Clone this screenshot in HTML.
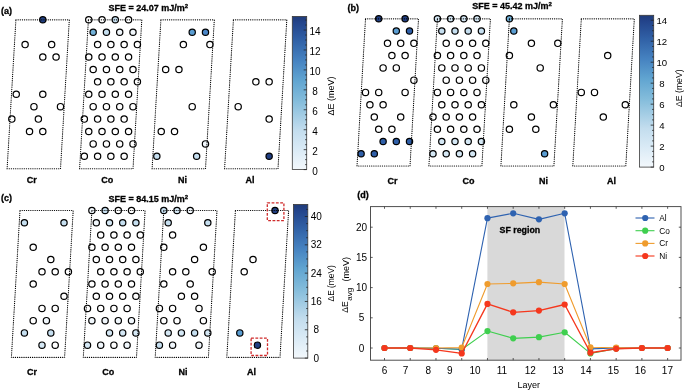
<!DOCTYPE html><html><head><meta charset="utf-8"><style>html,body{margin:0;padding:0;background:#fff;overflow:hidden;width:685px;height:392px;}svg{display:block;}text{filter:grayscale(1);}text[font-weight="bold"]{stroke:#000;stroke-width:0.3px;}text{font-family:"Liberation Sans",sans-serif;fill:#000;}</style></head><body>
<svg width="685" height="392" viewBox="0 0 685 392">
<defs><linearGradient id="ga" x1="0" y1="1" x2="0" y2="0"><stop offset="0.0000" stop-color="#f3f8fc"/><stop offset="0.1240" stop-color="#dbebf6"/><stop offset="0.2550" stop-color="#c3ddee"/><stop offset="0.4500" stop-color="#83bcdb"/><stop offset="0.5800" stop-color="#61a5d1"/><stop offset="0.7100" stop-color="#4683c1"/><stop offset="0.8400" stop-color="#3162a7"/><stop offset="0.9600" stop-color="#23448b"/><stop offset="1.0000" stop-color="#1f3b78"/></linearGradient><linearGradient id="gb" x1="0" y1="1" x2="0" y2="0"><stop offset="0.0000" stop-color="#f3f8fc"/><stop offset="0.1240" stop-color="#dbebf6"/><stop offset="0.2550" stop-color="#c3ddee"/><stop offset="0.4500" stop-color="#83bcdb"/><stop offset="0.5800" stop-color="#61a5d1"/><stop offset="0.7100" stop-color="#4683c1"/><stop offset="0.8400" stop-color="#3162a7"/><stop offset="0.9600" stop-color="#23448b"/><stop offset="1.0000" stop-color="#1f3b78"/></linearGradient><linearGradient id="gc" x1="0" y1="1" x2="0" y2="0"><stop offset="0.0000" stop-color="#f3f8fc"/><stop offset="0.1240" stop-color="#dbebf6"/><stop offset="0.2550" stop-color="#c3ddee"/><stop offset="0.4500" stop-color="#83bcdb"/><stop offset="0.5800" stop-color="#61a5d1"/><stop offset="0.7100" stop-color="#4683c1"/><stop offset="0.8400" stop-color="#3162a7"/><stop offset="0.9600" stop-color="#23448b"/><stop offset="1.0000" stop-color="#1f3b78"/></linearGradient></defs>
<rect width="685" height="392" fill="#fff"/>
<text x="1" y="13.6" font-size="9" font-weight="bold">(a)</text>
<text x="347.6" y="11.2" font-size="9" font-weight="bold">(b)</text>
<text x="1" y="200.6" font-size="9" font-weight="bold">(c)</text>
<text x="357.2" y="198.0" font-size="9" font-weight="bold">(d)</text>
<text x="108.4" y="11.2" font-size="9" font-weight="bold">SFE = 24.07 mJ/m<tspan font-size="6" dy="-3">2</tspan></text>
<text x="472.2" y="8.9" font-size="9" font-weight="bold">SFE = 45.42 mJ/m<tspan font-size="6" dy="-3">2</tspan></text>
<text x="108.4" y="202.2" font-size="9" font-weight="bold">SFE = 84.15 mJ/m<tspan font-size="6" dy="-3">2</tspan></text>
<circle cx="42.79" cy="19.80" r="3.15" fill="#213f82" stroke="#000" stroke-width="1.2"/>
<circle cx="25.10" cy="44.62" r="3.15" fill="#ffffff" stroke="#000" stroke-width="1.2"/>
<circle cx="51.64" cy="44.62" r="3.15" fill="#ffffff" stroke="#000" stroke-width="1.2"/>
<circle cx="42.79" cy="57.03" r="3.15" fill="#ffffff" stroke="#000" stroke-width="1.2"/>
<circle cx="56.06" cy="57.03" r="3.15" fill="#ffffff" stroke="#000" stroke-width="1.2"/>
<circle cx="16.25" cy="94.26" r="3.15" fill="#ffffff" stroke="#000" stroke-width="1.2"/>
<circle cx="42.79" cy="94.26" r="3.15" fill="#ffffff" stroke="#000" stroke-width="1.2"/>
<circle cx="33.94" cy="106.67" r="3.15" fill="#ffffff" stroke="#000" stroke-width="1.2"/>
<circle cx="60.48" cy="106.67" r="3.15" fill="#ffffff" stroke="#000" stroke-width="1.2"/>
<circle cx="11.83" cy="119.08" r="3.15" fill="#ffffff" stroke="#000" stroke-width="1.2"/>
<circle cx="38.37" cy="119.08" r="3.15" fill="#ffffff" stroke="#000" stroke-width="1.2"/>
<circle cx="29.52" cy="131.49" r="3.15" fill="#ffffff" stroke="#000" stroke-width="1.2"/>
<circle cx="42.79" cy="131.49" r="3.15" fill="#ffffff" stroke="#000" stroke-width="1.2"/>
<polygon points="15.90,19.80 69.30,19.80 60.50,168.72 7.10,168.72" fill="none" stroke="#000" stroke-width="1.15" stroke-linecap="round" stroke-dasharray="0.2 1.95"/>
<circle cx="88.75" cy="19.80" r="3.15" fill="#ffffff" stroke="#000" stroke-width="1.2"/>
<circle cx="102.02" cy="19.80" r="3.15" fill="#ffffff" stroke="#000" stroke-width="1.2"/>
<circle cx="115.29" cy="19.80" r="3.15" fill="#c6dff0" stroke="#000" stroke-width="1.2"/>
<circle cx="128.56" cy="19.80" r="3.15" fill="#ffffff" stroke="#000" stroke-width="1.2"/>
<circle cx="93.17" cy="32.21" r="3.15" fill="#72b1d8" stroke="#000" stroke-width="1.2"/>
<circle cx="106.44" cy="32.21" r="3.15" fill="#c6dff0" stroke="#000" stroke-width="1.2"/>
<circle cx="119.71" cy="32.21" r="3.15" fill="#f1f7fc" stroke="#000" stroke-width="1.2"/>
<circle cx="132.98" cy="32.21" r="3.15" fill="#f1f7fc" stroke="#000" stroke-width="1.2"/>
<circle cx="97.60" cy="44.62" r="3.15" fill="#ffffff" stroke="#000" stroke-width="1.2"/>
<circle cx="110.87" cy="44.62" r="3.15" fill="#ffffff" stroke="#000" stroke-width="1.2"/>
<circle cx="124.14" cy="44.62" r="3.15" fill="#ffffff" stroke="#000" stroke-width="1.2"/>
<circle cx="137.41" cy="44.62" r="3.15" fill="#ffffff" stroke="#000" stroke-width="1.2"/>
<circle cx="88.75" cy="57.03" r="3.15" fill="#ffffff" stroke="#000" stroke-width="1.2"/>
<circle cx="102.02" cy="57.03" r="3.15" fill="#ffffff" stroke="#000" stroke-width="1.2"/>
<circle cx="115.29" cy="57.03" r="3.15" fill="#ffffff" stroke="#000" stroke-width="1.2"/>
<circle cx="128.56" cy="57.03" r="3.15" fill="#ffffff" stroke="#000" stroke-width="1.2"/>
<circle cx="93.17" cy="69.44" r="3.15" fill="#ffffff" stroke="#000" stroke-width="1.2"/>
<circle cx="106.44" cy="69.44" r="3.15" fill="#ffffff" stroke="#000" stroke-width="1.2"/>
<circle cx="119.71" cy="69.44" r="3.15" fill="#ffffff" stroke="#000" stroke-width="1.2"/>
<circle cx="132.98" cy="69.44" r="3.15" fill="#ffffff" stroke="#000" stroke-width="1.2"/>
<circle cx="97.60" cy="81.85" r="3.15" fill="#ffffff" stroke="#000" stroke-width="1.2"/>
<circle cx="110.87" cy="81.85" r="3.15" fill="#ffffff" stroke="#000" stroke-width="1.2"/>
<circle cx="124.14" cy="81.85" r="3.15" fill="#ffffff" stroke="#000" stroke-width="1.2"/>
<circle cx="137.41" cy="81.85" r="3.15" fill="#ffffff" stroke="#000" stroke-width="1.2"/>
<circle cx="88.75" cy="94.26" r="3.15" fill="#ffffff" stroke="#000" stroke-width="1.2"/>
<circle cx="102.02" cy="94.26" r="3.15" fill="#ffffff" stroke="#000" stroke-width="1.2"/>
<circle cx="115.29" cy="94.26" r="3.15" fill="#ffffff" stroke="#000" stroke-width="1.2"/>
<circle cx="128.56" cy="94.26" r="3.15" fill="#ffffff" stroke="#000" stroke-width="1.2"/>
<circle cx="93.17" cy="106.67" r="3.15" fill="#ffffff" stroke="#000" stroke-width="1.2"/>
<circle cx="106.44" cy="106.67" r="3.15" fill="#ffffff" stroke="#000" stroke-width="1.2"/>
<circle cx="119.71" cy="106.67" r="3.15" fill="#ffffff" stroke="#000" stroke-width="1.2"/>
<circle cx="132.98" cy="106.67" r="3.15" fill="#ffffff" stroke="#000" stroke-width="1.2"/>
<circle cx="84.33" cy="119.08" r="3.15" fill="#ffffff" stroke="#000" stroke-width="1.2"/>
<circle cx="97.60" cy="119.08" r="3.15" fill="#ffffff" stroke="#000" stroke-width="1.2"/>
<circle cx="110.87" cy="119.08" r="3.15" fill="#ffffff" stroke="#000" stroke-width="1.2"/>
<circle cx="124.14" cy="119.08" r="3.15" fill="#ffffff" stroke="#000" stroke-width="1.2"/>
<circle cx="88.75" cy="131.49" r="3.15" fill="#ffffff" stroke="#000" stroke-width="1.2"/>
<circle cx="102.02" cy="131.49" r="3.15" fill="#ffffff" stroke="#000" stroke-width="1.2"/>
<circle cx="115.29" cy="131.49" r="3.15" fill="#ffffff" stroke="#000" stroke-width="1.2"/>
<circle cx="128.56" cy="131.49" r="3.15" fill="#ffffff" stroke="#000" stroke-width="1.2"/>
<circle cx="93.17" cy="143.90" r="3.15" fill="#ffffff" stroke="#000" stroke-width="1.2"/>
<circle cx="106.44" cy="143.90" r="3.15" fill="#ffffff" stroke="#000" stroke-width="1.2"/>
<circle cx="119.71" cy="143.90" r="3.15" fill="#ffffff" stroke="#000" stroke-width="1.2"/>
<circle cx="132.98" cy="143.90" r="3.15" fill="#ffffff" stroke="#000" stroke-width="1.2"/>
<circle cx="84.33" cy="156.31" r="3.15" fill="#ffffff" stroke="#000" stroke-width="1.2"/>
<circle cx="97.60" cy="156.31" r="3.15" fill="#ffffff" stroke="#000" stroke-width="1.2"/>
<circle cx="110.87" cy="156.31" r="3.15" fill="#ffffff" stroke="#000" stroke-width="1.2"/>
<circle cx="124.14" cy="156.31" r="3.15" fill="#ffffff" stroke="#000" stroke-width="1.2"/>
<polygon points="88.40,19.80 141.80,19.80 133.00,168.72 79.60,168.72" fill="none" stroke="#000" stroke-width="1.15" stroke-linecap="round" stroke-dasharray="0.2 1.95"/>
<circle cx="192.21" cy="32.21" r="3.15" fill="#5a9dd2" stroke="#000" stroke-width="1.2"/>
<circle cx="205.48" cy="32.21" r="3.15" fill="#4a86c8" stroke="#000" stroke-width="1.2"/>
<circle cx="183.37" cy="44.62" r="3.15" fill="#ffffff" stroke="#000" stroke-width="1.2"/>
<circle cx="209.91" cy="44.62" r="3.15" fill="#ffffff" stroke="#000" stroke-width="1.2"/>
<circle cx="165.67" cy="69.44" r="3.15" fill="#ffffff" stroke="#000" stroke-width="1.2"/>
<circle cx="178.94" cy="69.44" r="3.15" fill="#ffffff" stroke="#000" stroke-width="1.2"/>
<circle cx="192.21" cy="106.67" r="3.15" fill="#ffffff" stroke="#000" stroke-width="1.2"/>
<circle cx="161.25" cy="131.49" r="3.15" fill="#ffffff" stroke="#000" stroke-width="1.2"/>
<circle cx="174.52" cy="131.49" r="3.15" fill="#ffffff" stroke="#000" stroke-width="1.2"/>
<circle cx="205.48" cy="143.90" r="3.15" fill="#f1f7fc" stroke="#000" stroke-width="1.2"/>
<circle cx="156.83" cy="156.31" r="3.15" fill="#c6dff0" stroke="#000" stroke-width="1.2"/>
<circle cx="196.64" cy="156.31" r="3.15" fill="#c6dff0" stroke="#000" stroke-width="1.2"/>
<polygon points="160.90,19.80 214.30,19.80 205.50,168.72 152.10,168.72" fill="none" stroke="#000" stroke-width="1.15" stroke-linecap="round" stroke-dasharray="0.2 1.95"/>
<circle cx="255.87" cy="81.85" r="3.15" fill="#ffffff" stroke="#000" stroke-width="1.2"/>
<circle cx="269.14" cy="81.85" r="3.15" fill="#ffffff" stroke="#000" stroke-width="1.2"/>
<circle cx="238.17" cy="106.67" r="3.15" fill="#ffffff" stroke="#000" stroke-width="1.2"/>
<circle cx="269.14" cy="119.08" r="3.15" fill="#ffffff" stroke="#000" stroke-width="1.2"/>
<circle cx="269.14" cy="156.31" r="3.15" fill="#213f82" stroke="#000" stroke-width="1.2"/>
<polygon points="233.40,19.80 286.80,19.80 278.00,168.72 224.60,168.72" fill="none" stroke="#000" stroke-width="1.15" stroke-linecap="round" stroke-dasharray="0.2 1.95"/>
<circle cx="378.70" cy="18.80" r="3.15" fill="#213f82" stroke="#000" stroke-width="1.2"/>
<circle cx="405.10" cy="18.80" r="3.15" fill="#213f82" stroke="#000" stroke-width="1.2"/>
<circle cx="396.30" cy="31.07" r="3.15" fill="#5a9dd2" stroke="#000" stroke-width="1.2"/>
<circle cx="409.50" cy="31.07" r="3.15" fill="#2f5fa8" stroke="#000" stroke-width="1.2"/>
<circle cx="387.50" cy="43.34" r="3.15" fill="#ffffff" stroke="#000" stroke-width="1.2"/>
<circle cx="400.70" cy="43.34" r="3.15" fill="#ffffff" stroke="#000" stroke-width="1.2"/>
<circle cx="413.90" cy="43.34" r="3.15" fill="#ffffff" stroke="#000" stroke-width="1.2"/>
<circle cx="391.90" cy="55.61" r="3.15" fill="#ffffff" stroke="#000" stroke-width="1.2"/>
<circle cx="405.10" cy="55.61" r="3.15" fill="#ffffff" stroke="#000" stroke-width="1.2"/>
<circle cx="383.10" cy="67.88" r="3.15" fill="#ffffff" stroke="#000" stroke-width="1.2"/>
<circle cx="396.30" cy="67.88" r="3.15" fill="#ffffff" stroke="#000" stroke-width="1.2"/>
<circle cx="413.90" cy="80.15" r="3.15" fill="#ffffff" stroke="#000" stroke-width="1.2"/>
<circle cx="365.50" cy="92.42" r="3.15" fill="#ffffff" stroke="#000" stroke-width="1.2"/>
<circle cx="378.70" cy="92.42" r="3.15" fill="#ffffff" stroke="#000" stroke-width="1.2"/>
<circle cx="405.10" cy="92.42" r="3.15" fill="#ffffff" stroke="#000" stroke-width="1.2"/>
<circle cx="369.90" cy="104.69" r="3.15" fill="#ffffff" stroke="#000" stroke-width="1.2"/>
<circle cx="383.10" cy="104.69" r="3.15" fill="#ffffff" stroke="#000" stroke-width="1.2"/>
<circle cx="374.30" cy="116.96" r="3.15" fill="#ffffff" stroke="#000" stroke-width="1.2"/>
<circle cx="400.70" cy="116.96" r="3.15" fill="#ffffff" stroke="#000" stroke-width="1.2"/>
<circle cx="378.70" cy="129.23" r="3.15" fill="#ffffff" stroke="#000" stroke-width="1.2"/>
<circle cx="391.90" cy="129.23" r="3.15" fill="#ffffff" stroke="#000" stroke-width="1.2"/>
<circle cx="383.10" cy="141.50" r="3.15" fill="#2f5fa8" stroke="#000" stroke-width="1.2"/>
<circle cx="396.30" cy="141.50" r="3.15" fill="#2f5fa8" stroke="#000" stroke-width="1.2"/>
<circle cx="409.50" cy="141.50" r="3.15" fill="#2f5fa8" stroke="#000" stroke-width="1.2"/>
<circle cx="361.10" cy="153.77" r="3.15" fill="#2f5fa8" stroke="#000" stroke-width="1.2"/>
<circle cx="374.30" cy="153.77" r="3.15" fill="#2f5fa8" stroke="#000" stroke-width="1.2"/>
<polygon points="365.50,18.80 418.50,18.80 410.00,166.04 357.00,166.04" fill="none" stroke="#000" stroke-width="1.15" stroke-linecap="round" stroke-dasharray="0.2 1.95"/>
<circle cx="437.40" cy="18.80" r="3.15" fill="#d5e8f5" stroke="#000" stroke-width="1.2"/>
<circle cx="450.60" cy="18.80" r="3.15" fill="#d5e8f5" stroke="#000" stroke-width="1.2"/>
<circle cx="463.80" cy="18.80" r="3.15" fill="#d5e8f5" stroke="#000" stroke-width="1.2"/>
<circle cx="477.00" cy="18.80" r="3.15" fill="#d5e8f5" stroke="#000" stroke-width="1.2"/>
<circle cx="441.80" cy="31.07" r="3.15" fill="#c6dff0" stroke="#000" stroke-width="1.2"/>
<circle cx="455.00" cy="31.07" r="3.15" fill="#c6dff0" stroke="#000" stroke-width="1.2"/>
<circle cx="468.20" cy="31.07" r="3.15" fill="#c6dff0" stroke="#000" stroke-width="1.2"/>
<circle cx="481.40" cy="31.07" r="3.15" fill="#c6dff0" stroke="#000" stroke-width="1.2"/>
<circle cx="446.20" cy="43.34" r="3.15" fill="#ffffff" stroke="#000" stroke-width="1.2"/>
<circle cx="459.40" cy="43.34" r="3.15" fill="#ffffff" stroke="#000" stroke-width="1.2"/>
<circle cx="472.60" cy="43.34" r="3.15" fill="#ffffff" stroke="#000" stroke-width="1.2"/>
<circle cx="485.80" cy="43.34" r="3.15" fill="#ffffff" stroke="#000" stroke-width="1.2"/>
<circle cx="437.40" cy="55.61" r="3.15" fill="#ffffff" stroke="#000" stroke-width="1.2"/>
<circle cx="450.60" cy="55.61" r="3.15" fill="#ffffff" stroke="#000" stroke-width="1.2"/>
<circle cx="463.80" cy="55.61" r="3.15" fill="#ffffff" stroke="#000" stroke-width="1.2"/>
<circle cx="477.00" cy="55.61" r="3.15" fill="#ffffff" stroke="#000" stroke-width="1.2"/>
<circle cx="441.80" cy="67.88" r="3.15" fill="#ffffff" stroke="#000" stroke-width="1.2"/>
<circle cx="455.00" cy="67.88" r="3.15" fill="#ffffff" stroke="#000" stroke-width="1.2"/>
<circle cx="468.20" cy="67.88" r="3.15" fill="#ffffff" stroke="#000" stroke-width="1.2"/>
<circle cx="481.40" cy="67.88" r="3.15" fill="#ffffff" stroke="#000" stroke-width="1.2"/>
<circle cx="446.20" cy="80.15" r="3.15" fill="#ffffff" stroke="#000" stroke-width="1.2"/>
<circle cx="459.40" cy="80.15" r="3.15" fill="#ffffff" stroke="#000" stroke-width="1.2"/>
<circle cx="472.60" cy="80.15" r="3.15" fill="#ffffff" stroke="#000" stroke-width="1.2"/>
<circle cx="485.80" cy="80.15" r="3.15" fill="#ffffff" stroke="#000" stroke-width="1.2"/>
<circle cx="437.40" cy="92.42" r="3.15" fill="#ffffff" stroke="#000" stroke-width="1.2"/>
<circle cx="450.60" cy="92.42" r="3.15" fill="#ffffff" stroke="#000" stroke-width="1.2"/>
<circle cx="463.80" cy="92.42" r="3.15" fill="#ffffff" stroke="#000" stroke-width="1.2"/>
<circle cx="477.00" cy="92.42" r="3.15" fill="#ffffff" stroke="#000" stroke-width="1.2"/>
<circle cx="441.80" cy="104.69" r="3.15" fill="#ffffff" stroke="#000" stroke-width="1.2"/>
<circle cx="455.00" cy="104.69" r="3.15" fill="#ffffff" stroke="#000" stroke-width="1.2"/>
<circle cx="468.20" cy="104.69" r="3.15" fill="#ffffff" stroke="#000" stroke-width="1.2"/>
<circle cx="481.40" cy="104.69" r="3.15" fill="#ffffff" stroke="#000" stroke-width="1.2"/>
<circle cx="433.00" cy="116.96" r="3.15" fill="#ffffff" stroke="#000" stroke-width="1.2"/>
<circle cx="446.20" cy="116.96" r="3.15" fill="#ffffff" stroke="#000" stroke-width="1.2"/>
<circle cx="459.40" cy="116.96" r="3.15" fill="#ffffff" stroke="#000" stroke-width="1.2"/>
<circle cx="472.60" cy="116.96" r="3.15" fill="#ffffff" stroke="#000" stroke-width="1.2"/>
<circle cx="437.40" cy="129.23" r="3.15" fill="#ffffff" stroke="#000" stroke-width="1.2"/>
<circle cx="450.60" cy="129.23" r="3.15" fill="#ffffff" stroke="#000" stroke-width="1.2"/>
<circle cx="463.80" cy="129.23" r="3.15" fill="#ffffff" stroke="#000" stroke-width="1.2"/>
<circle cx="477.00" cy="129.23" r="3.15" fill="#ffffff" stroke="#000" stroke-width="1.2"/>
<circle cx="441.80" cy="141.50" r="3.15" fill="#d5e8f5" stroke="#000" stroke-width="1.2"/>
<circle cx="455.00" cy="141.50" r="3.15" fill="#d5e8f5" stroke="#000" stroke-width="1.2"/>
<circle cx="468.20" cy="141.50" r="3.15" fill="#d5e8f5" stroke="#000" stroke-width="1.2"/>
<circle cx="481.40" cy="141.50" r="3.15" fill="#d5e8f5" stroke="#000" stroke-width="1.2"/>
<circle cx="433.00" cy="153.77" r="3.15" fill="#d5e8f5" stroke="#000" stroke-width="1.2"/>
<circle cx="446.20" cy="153.77" r="3.15" fill="#d5e8f5" stroke="#000" stroke-width="1.2"/>
<circle cx="459.40" cy="153.77" r="3.15" fill="#d5e8f5" stroke="#000" stroke-width="1.2"/>
<circle cx="472.60" cy="153.77" r="3.15" fill="#d5e8f5" stroke="#000" stroke-width="1.2"/>
<polygon points="437.40,18.80 490.40,18.80 481.90,166.04 428.90,166.04" fill="none" stroke="#000" stroke-width="1.15" stroke-linecap="round" stroke-dasharray="0.2 1.95"/>
<circle cx="509.40" cy="18.80" r="3.15" fill="#72b1d8" stroke="#000" stroke-width="1.2"/>
<circle cx="513.80" cy="31.07" r="3.15" fill="#5a9dd2" stroke="#000" stroke-width="1.2"/>
<circle cx="531.40" cy="43.34" r="3.15" fill="#ffffff" stroke="#000" stroke-width="1.2"/>
<circle cx="557.80" cy="43.34" r="3.15" fill="#ffffff" stroke="#000" stroke-width="1.2"/>
<circle cx="509.40" cy="55.61" r="3.15" fill="#ffffff" stroke="#000" stroke-width="1.2"/>
<circle cx="540.20" cy="67.88" r="3.15" fill="#ffffff" stroke="#000" stroke-width="1.2"/>
<circle cx="513.80" cy="104.69" r="3.15" fill="#ffffff" stroke="#000" stroke-width="1.2"/>
<circle cx="553.40" cy="104.69" r="3.15" fill="#ffffff" stroke="#000" stroke-width="1.2"/>
<circle cx="531.40" cy="116.96" r="3.15" fill="#ffffff" stroke="#000" stroke-width="1.2"/>
<circle cx="509.40" cy="129.23" r="3.15" fill="#ffffff" stroke="#000" stroke-width="1.2"/>
<circle cx="535.80" cy="129.23" r="3.15" fill="#ffffff" stroke="#000" stroke-width="1.2"/>
<circle cx="544.60" cy="153.77" r="3.15" fill="#5a9dd2" stroke="#000" stroke-width="1.2"/>
<polygon points="509.40,18.80 562.40,18.80 553.90,166.04 500.90,166.04" fill="none" stroke="#000" stroke-width="1.15" stroke-linecap="round" stroke-dasharray="0.2 1.95"/>
<circle cx="607.70" cy="55.61" r="3.15" fill="#ffffff" stroke="#000" stroke-width="1.2"/>
<circle cx="581.30" cy="92.42" r="3.15" fill="#ffffff" stroke="#000" stroke-width="1.2"/>
<circle cx="594.50" cy="92.42" r="3.15" fill="#ffffff" stroke="#000" stroke-width="1.2"/>
<circle cx="625.30" cy="104.69" r="3.15" fill="#ffffff" stroke="#000" stroke-width="1.2"/>
<circle cx="603.30" cy="116.96" r="3.15" fill="#ffffff" stroke="#000" stroke-width="1.2"/>
<polygon points="581.30,18.80 634.30,18.80 625.80,166.04 572.80,166.04" fill="none" stroke="#000" stroke-width="1.15" stroke-linecap="round" stroke-dasharray="0.2 1.95"/>
<circle cx="24.40" cy="222.74" r="3.15" fill="#c6dff0" stroke="#000" stroke-width="1.2"/>
<circle cx="64.00" cy="222.74" r="3.15" fill="#c6dff0" stroke="#000" stroke-width="1.2"/>
<circle cx="33.20" cy="247.22" r="3.15" fill="#ffffff" stroke="#000" stroke-width="1.2"/>
<circle cx="50.80" cy="259.46" r="3.15" fill="#ffffff" stroke="#000" stroke-width="1.2"/>
<circle cx="42.00" cy="271.70" r="3.15" fill="#ffffff" stroke="#000" stroke-width="1.2"/>
<circle cx="55.20" cy="271.70" r="3.15" fill="#ffffff" stroke="#000" stroke-width="1.2"/>
<circle cx="68.40" cy="271.70" r="3.15" fill="#ffffff" stroke="#000" stroke-width="1.2"/>
<circle cx="33.20" cy="283.94" r="3.15" fill="#ffffff" stroke="#000" stroke-width="1.2"/>
<circle cx="64.00" cy="296.18" r="3.15" fill="#ffffff" stroke="#000" stroke-width="1.2"/>
<circle cx="42.00" cy="308.42" r="3.15" fill="#ffffff" stroke="#000" stroke-width="1.2"/>
<circle cx="55.20" cy="308.42" r="3.15" fill="#ffffff" stroke="#000" stroke-width="1.2"/>
<circle cx="33.20" cy="320.66" r="3.15" fill="#ffffff" stroke="#000" stroke-width="1.2"/>
<circle cx="46.40" cy="320.66" r="3.15" fill="#f1f7fc" stroke="#000" stroke-width="1.2"/>
<circle cx="24.40" cy="332.90" r="3.15" fill="#c6dff0" stroke="#000" stroke-width="1.2"/>
<circle cx="50.80" cy="332.90" r="3.15" fill="#c6dff0" stroke="#000" stroke-width="1.2"/>
<circle cx="42.00" cy="345.14" r="3.15" fill="#d5e8f5" stroke="#000" stroke-width="1.2"/>
<circle cx="55.20" cy="345.14" r="3.15" fill="#ffffff" stroke="#000" stroke-width="1.2"/>
<polygon points="20.00,210.50 73.20,210.50 64.60,357.38 11.40,357.38" fill="none" stroke="#000" stroke-width="1.15" stroke-linecap="round" stroke-dasharray="0.2 1.95"/>
<circle cx="91.90" cy="210.50" r="3.15" fill="#f1f7fc" stroke="#000" stroke-width="1.2"/>
<circle cx="105.10" cy="210.50" r="3.15" fill="#c6dff0" stroke="#000" stroke-width="1.2"/>
<circle cx="118.30" cy="210.50" r="3.15" fill="#ffffff" stroke="#000" stroke-width="1.2"/>
<circle cx="131.50" cy="210.50" r="3.15" fill="#ffffff" stroke="#000" stroke-width="1.2"/>
<circle cx="96.30" cy="222.74" r="3.15" fill="#f1f7fc" stroke="#000" stroke-width="1.2"/>
<circle cx="109.50" cy="222.74" r="3.15" fill="#d5e8f5" stroke="#000" stroke-width="1.2"/>
<circle cx="122.70" cy="222.74" r="3.15" fill="#c6dff0" stroke="#000" stroke-width="1.2"/>
<circle cx="135.90" cy="222.74" r="3.15" fill="#c6dff0" stroke="#000" stroke-width="1.2"/>
<circle cx="100.70" cy="234.98" r="3.15" fill="#ffffff" stroke="#000" stroke-width="1.2"/>
<circle cx="113.90" cy="234.98" r="3.15" fill="#ffffff" stroke="#000" stroke-width="1.2"/>
<circle cx="127.10" cy="234.98" r="3.15" fill="#ffffff" stroke="#000" stroke-width="1.2"/>
<circle cx="140.30" cy="234.98" r="3.15" fill="#ffffff" stroke="#000" stroke-width="1.2"/>
<circle cx="91.90" cy="247.22" r="3.15" fill="#ffffff" stroke="#000" stroke-width="1.2"/>
<circle cx="105.10" cy="247.22" r="3.15" fill="#ffffff" stroke="#000" stroke-width="1.2"/>
<circle cx="118.30" cy="247.22" r="3.15" fill="#ffffff" stroke="#000" stroke-width="1.2"/>
<circle cx="131.50" cy="247.22" r="3.15" fill="#ffffff" stroke="#000" stroke-width="1.2"/>
<circle cx="96.30" cy="259.46" r="3.15" fill="#ffffff" stroke="#000" stroke-width="1.2"/>
<circle cx="109.50" cy="259.46" r="3.15" fill="#ffffff" stroke="#000" stroke-width="1.2"/>
<circle cx="122.70" cy="259.46" r="3.15" fill="#ffffff" stroke="#000" stroke-width="1.2"/>
<circle cx="135.90" cy="259.46" r="3.15" fill="#ffffff" stroke="#000" stroke-width="1.2"/>
<circle cx="100.70" cy="271.70" r="3.15" fill="#ffffff" stroke="#000" stroke-width="1.2"/>
<circle cx="113.90" cy="271.70" r="3.15" fill="#ffffff" stroke="#000" stroke-width="1.2"/>
<circle cx="127.10" cy="271.70" r="3.15" fill="#ffffff" stroke="#000" stroke-width="1.2"/>
<circle cx="140.30" cy="271.70" r="3.15" fill="#ffffff" stroke="#000" stroke-width="1.2"/>
<circle cx="91.90" cy="283.94" r="3.15" fill="#ffffff" stroke="#000" stroke-width="1.2"/>
<circle cx="105.10" cy="283.94" r="3.15" fill="#ffffff" stroke="#000" stroke-width="1.2"/>
<circle cx="118.30" cy="283.94" r="3.15" fill="#ffffff" stroke="#000" stroke-width="1.2"/>
<circle cx="131.50" cy="283.94" r="3.15" fill="#ffffff" stroke="#000" stroke-width="1.2"/>
<circle cx="96.30" cy="296.18" r="3.15" fill="#ffffff" stroke="#000" stroke-width="1.2"/>
<circle cx="109.50" cy="296.18" r="3.15" fill="#ffffff" stroke="#000" stroke-width="1.2"/>
<circle cx="122.70" cy="296.18" r="3.15" fill="#ffffff" stroke="#000" stroke-width="1.2"/>
<circle cx="135.90" cy="296.18" r="3.15" fill="#ffffff" stroke="#000" stroke-width="1.2"/>
<circle cx="87.50" cy="308.42" r="3.15" fill="#ffffff" stroke="#000" stroke-width="1.2"/>
<circle cx="100.70" cy="308.42" r="3.15" fill="#ffffff" stroke="#000" stroke-width="1.2"/>
<circle cx="113.90" cy="308.42" r="3.15" fill="#ffffff" stroke="#000" stroke-width="1.2"/>
<circle cx="127.10" cy="308.42" r="3.15" fill="#ffffff" stroke="#000" stroke-width="1.2"/>
<circle cx="91.90" cy="320.66" r="3.15" fill="#f1f7fc" stroke="#000" stroke-width="1.2"/>
<circle cx="105.10" cy="320.66" r="3.15" fill="#f1f7fc" stroke="#000" stroke-width="1.2"/>
<circle cx="118.30" cy="320.66" r="3.15" fill="#f1f7fc" stroke="#000" stroke-width="1.2"/>
<circle cx="131.50" cy="320.66" r="3.15" fill="#f1f7fc" stroke="#000" stroke-width="1.2"/>
<circle cx="109.50" cy="332.90" r="3.15" fill="#d5e8f5" stroke="#000" stroke-width="1.2"/>
<circle cx="122.70" cy="332.90" r="3.15" fill="#d5e8f5" stroke="#000" stroke-width="1.2"/>
<circle cx="135.90" cy="332.90" r="3.15" fill="#d5e8f5" stroke="#000" stroke-width="1.2"/>
<circle cx="87.50" cy="345.14" r="3.15" fill="#d5e8f5" stroke="#000" stroke-width="1.2"/>
<circle cx="100.70" cy="345.14" r="3.15" fill="#f1f7fc" stroke="#000" stroke-width="1.2"/>
<circle cx="113.90" cy="345.14" r="3.15" fill="#ffffff" stroke="#000" stroke-width="1.2"/>
<circle cx="127.10" cy="345.14" r="3.15" fill="#f1f7fc" stroke="#000" stroke-width="1.2"/>
<polygon points="91.90,210.50 145.10,210.50 136.50,357.38 83.30,357.38" fill="none" stroke="#000" stroke-width="1.15" stroke-linecap="round" stroke-dasharray="0.2 1.95"/>
<circle cx="163.80" cy="210.50" r="3.15" fill="#c6dff0" stroke="#000" stroke-width="1.2"/>
<circle cx="177.00" cy="210.50" r="3.15" fill="#d5e8f5" stroke="#000" stroke-width="1.2"/>
<circle cx="190.20" cy="210.50" r="3.15" fill="#f1f7fc" stroke="#000" stroke-width="1.2"/>
<circle cx="168.20" cy="222.74" r="3.15" fill="#c6dff0" stroke="#000" stroke-width="1.2"/>
<circle cx="207.80" cy="222.74" r="3.15" fill="#c6dff0" stroke="#000" stroke-width="1.2"/>
<circle cx="172.60" cy="234.98" r="3.15" fill="#ffffff" stroke="#000" stroke-width="1.2"/>
<circle cx="163.80" cy="247.22" r="3.15" fill="#ffffff" stroke="#000" stroke-width="1.2"/>
<circle cx="203.40" cy="247.22" r="3.15" fill="#ffffff" stroke="#000" stroke-width="1.2"/>
<circle cx="194.60" cy="259.46" r="3.15" fill="#ffffff" stroke="#000" stroke-width="1.2"/>
<circle cx="172.60" cy="271.70" r="3.15" fill="#ffffff" stroke="#000" stroke-width="1.2"/>
<circle cx="185.80" cy="271.70" r="3.15" fill="#ffffff" stroke="#000" stroke-width="1.2"/>
<circle cx="212.20" cy="271.70" r="3.15" fill="#ffffff" stroke="#000" stroke-width="1.2"/>
<circle cx="163.80" cy="283.94" r="3.15" fill="#ffffff" stroke="#000" stroke-width="1.2"/>
<circle cx="190.20" cy="283.94" r="3.15" fill="#ffffff" stroke="#000" stroke-width="1.2"/>
<circle cx="181.40" cy="296.18" r="3.15" fill="#ffffff" stroke="#000" stroke-width="1.2"/>
<circle cx="194.60" cy="296.18" r="3.15" fill="#ffffff" stroke="#000" stroke-width="1.2"/>
<circle cx="159.40" cy="308.42" r="3.15" fill="#ffffff" stroke="#000" stroke-width="1.2"/>
<circle cx="172.60" cy="308.42" r="3.15" fill="#ffffff" stroke="#000" stroke-width="1.2"/>
<circle cx="199.00" cy="308.42" r="3.15" fill="#ffffff" stroke="#000" stroke-width="1.2"/>
<circle cx="163.80" cy="320.66" r="3.15" fill="#ffffff" stroke="#000" stroke-width="1.2"/>
<circle cx="177.00" cy="320.66" r="3.15" fill="#ffffff" stroke="#000" stroke-width="1.2"/>
<circle cx="203.40" cy="320.66" r="3.15" fill="#ffffff" stroke="#000" stroke-width="1.2"/>
<circle cx="168.20" cy="332.90" r="3.15" fill="#d5e8f5" stroke="#000" stroke-width="1.2"/>
<circle cx="181.40" cy="332.90" r="3.15" fill="#d5e8f5" stroke="#000" stroke-width="1.2"/>
<circle cx="194.60" cy="332.90" r="3.15" fill="#c6dff0" stroke="#000" stroke-width="1.2"/>
<circle cx="207.80" cy="332.90" r="3.15" fill="#d5e8f5" stroke="#000" stroke-width="1.2"/>
<circle cx="159.40" cy="345.14" r="3.15" fill="#c6dff0" stroke="#000" stroke-width="1.2"/>
<circle cx="172.60" cy="345.14" r="3.15" fill="#f1f7fc" stroke="#000" stroke-width="1.2"/>
<circle cx="199.00" cy="345.14" r="3.15" fill="#f1f7fc" stroke="#000" stroke-width="1.2"/>
<polygon points="163.80,210.50 217.00,210.50 208.40,357.38 155.20,357.38" fill="none" stroke="#000" stroke-width="1.15" stroke-linecap="round" stroke-dasharray="0.2 1.95"/>
<circle cx="275.00" cy="210.50" r="3.15" fill="#213f82" stroke="#000" stroke-width="1.2"/>
<circle cx="253.00" cy="259.46" r="3.15" fill="#ffffff" stroke="#000" stroke-width="1.2"/>
<circle cx="244.20" cy="271.70" r="3.15" fill="#ffffff" stroke="#000" stroke-width="1.2"/>
<circle cx="239.80" cy="332.90" r="3.15" fill="#5a9dd2" stroke="#000" stroke-width="1.2"/>
<circle cx="257.40" cy="345.14" r="3.15" fill="#213f82" stroke="#000" stroke-width="1.2"/>
<polygon points="235.40,210.50 288.60,210.50 280.00,357.38 226.80,357.38" fill="none" stroke="#000" stroke-width="1.15" stroke-linecap="round" stroke-dasharray="0.2 1.95"/>
<text x="31.7" y="183.4" font-size="9" font-weight="bold" text-anchor="middle">Cr</text>
<text x="107.3" y="183.4" font-size="9" font-weight="bold" text-anchor="middle">Co</text>
<text x="182.6" y="183.4" font-size="9" font-weight="bold" text-anchor="middle">Ni</text>
<text x="250.1" y="183.4" font-size="9" font-weight="bold" text-anchor="middle">Al</text>
<text x="392.6" y="183.5" font-size="9" font-weight="bold" text-anchor="middle">Cr</text>
<text x="468.4" y="183.5" font-size="9" font-weight="bold" text-anchor="middle">Co</text>
<text x="543.6" y="183.5" font-size="9" font-weight="bold" text-anchor="middle">Ni</text>
<text x="611.6" y="183.5" font-size="9" font-weight="bold" text-anchor="middle">Al</text>
<text x="32.1" y="375.0" font-size="9" font-weight="bold" text-anchor="middle">Cr</text>
<text x="108.3" y="375.0" font-size="9" font-weight="bold" text-anchor="middle">Co</text>
<text x="183.1" y="375.0" font-size="9" font-weight="bold" text-anchor="middle">Ni</text>
<text x="251.5" y="375.0" font-size="9" font-weight="bold" text-anchor="middle">Al</text>
<rect x="267.3" y="202.8" width="16.6" height="17.8" fill="none" stroke="#cf2b2b" stroke-width="1.3" stroke-dasharray="2.8 1.5"/>
<rect x="251.1" y="338.1" width="16.4" height="17.4" fill="none" stroke="#cf2b2b" stroke-width="1.3" stroke-dasharray="2.8 1.5"/>
<rect x="292.3" y="16.4" width="14.40" height="153.20" fill="url(#ga)" stroke="#3a3a3a" stroke-width="0.8"/>
<line x1="303.70" y1="169.60" x2="306.70" y2="169.60" stroke="#222" stroke-width="0.8"/>
<line x1="305.10" y1="164.61" x2="306.70" y2="164.61" stroke="#222" stroke-width="0.8"/>
<line x1="305.10" y1="159.63" x2="306.70" y2="159.63" stroke="#222" stroke-width="0.8"/>
<line x1="305.10" y1="154.64" x2="306.70" y2="154.64" stroke="#222" stroke-width="0.8"/>
<line x1="303.70" y1="149.66" x2="306.70" y2="149.66" stroke="#222" stroke-width="0.8"/>
<line x1="305.10" y1="144.67" x2="306.70" y2="144.67" stroke="#222" stroke-width="0.8"/>
<line x1="305.10" y1="139.69" x2="306.70" y2="139.69" stroke="#222" stroke-width="0.8"/>
<line x1="305.10" y1="134.70" x2="306.70" y2="134.70" stroke="#222" stroke-width="0.8"/>
<line x1="303.70" y1="129.72" x2="306.70" y2="129.72" stroke="#222" stroke-width="0.8"/>
<line x1="305.10" y1="124.73" x2="306.70" y2="124.73" stroke="#222" stroke-width="0.8"/>
<line x1="305.10" y1="119.75" x2="306.70" y2="119.75" stroke="#222" stroke-width="0.8"/>
<line x1="305.10" y1="114.76" x2="306.70" y2="114.76" stroke="#222" stroke-width="0.8"/>
<line x1="303.70" y1="109.78" x2="306.70" y2="109.78" stroke="#222" stroke-width="0.8"/>
<line x1="305.10" y1="104.79" x2="306.70" y2="104.79" stroke="#222" stroke-width="0.8"/>
<line x1="305.10" y1="99.81" x2="306.70" y2="99.81" stroke="#222" stroke-width="0.8"/>
<line x1="305.10" y1="94.82" x2="306.70" y2="94.82" stroke="#222" stroke-width="0.8"/>
<line x1="303.70" y1="89.84" x2="306.70" y2="89.84" stroke="#222" stroke-width="0.8"/>
<line x1="305.10" y1="84.85" x2="306.70" y2="84.85" stroke="#222" stroke-width="0.8"/>
<line x1="305.10" y1="79.87" x2="306.70" y2="79.87" stroke="#222" stroke-width="0.8"/>
<line x1="305.10" y1="74.88" x2="306.70" y2="74.88" stroke="#222" stroke-width="0.8"/>
<line x1="303.70" y1="69.90" x2="306.70" y2="69.90" stroke="#222" stroke-width="0.8"/>
<line x1="305.10" y1="64.91" x2="306.70" y2="64.91" stroke="#222" stroke-width="0.8"/>
<line x1="305.10" y1="59.93" x2="306.70" y2="59.93" stroke="#222" stroke-width="0.8"/>
<line x1="305.10" y1="54.94" x2="306.70" y2="54.94" stroke="#222" stroke-width="0.8"/>
<line x1="303.70" y1="49.96" x2="306.70" y2="49.96" stroke="#222" stroke-width="0.8"/>
<line x1="305.10" y1="44.97" x2="306.70" y2="44.97" stroke="#222" stroke-width="0.8"/>
<line x1="305.10" y1="39.99" x2="306.70" y2="39.99" stroke="#222" stroke-width="0.8"/>
<line x1="305.10" y1="35.00" x2="306.70" y2="35.00" stroke="#222" stroke-width="0.8"/>
<line x1="303.70" y1="30.02" x2="306.70" y2="30.02" stroke="#222" stroke-width="0.8"/>
<line x1="305.10" y1="25.03" x2="306.70" y2="25.03" stroke="#222" stroke-width="0.8"/>
<line x1="305.10" y1="20.05" x2="306.70" y2="20.05" stroke="#222" stroke-width="0.8"/>
<text x="315.0" y="35.42" font-size="10" text-anchor="middle">14</text>
<text x="315.0" y="55.36" font-size="10" text-anchor="middle">12</text>
<text x="315.0" y="75.30" font-size="10" text-anchor="middle">10</text>
<text x="315.0" y="95.24" font-size="10" text-anchor="middle">8</text>
<text x="315.0" y="115.18" font-size="10" text-anchor="middle">6</text>
<text x="315.0" y="135.12" font-size="10" text-anchor="middle">4</text>
<text x="315.0" y="155.06" font-size="10" text-anchor="middle">2</text>
<text x="315.0" y="175.00" font-size="10" text-anchor="middle">0</text>
<text transform="translate(334.2,95.9) rotate(-90)" text-anchor="middle" font-size="9">ΔE (meV)</text>
<rect x="639.4" y="15.3" width="14.30" height="151.80" fill="url(#gb)" stroke="#3a3a3a" stroke-width="0.8"/>
<line x1="650.70" y1="167.10" x2="653.70" y2="167.10" stroke="#222" stroke-width="0.8"/>
<line x1="652.10" y1="161.85" x2="653.70" y2="161.85" stroke="#222" stroke-width="0.8"/>
<line x1="652.10" y1="156.61" x2="653.70" y2="156.61" stroke="#222" stroke-width="0.8"/>
<line x1="652.10" y1="151.37" x2="653.70" y2="151.37" stroke="#222" stroke-width="0.8"/>
<line x1="650.70" y1="146.12" x2="653.70" y2="146.12" stroke="#222" stroke-width="0.8"/>
<line x1="652.10" y1="140.88" x2="653.70" y2="140.88" stroke="#222" stroke-width="0.8"/>
<line x1="652.10" y1="135.63" x2="653.70" y2="135.63" stroke="#222" stroke-width="0.8"/>
<line x1="652.10" y1="130.38" x2="653.70" y2="130.38" stroke="#222" stroke-width="0.8"/>
<line x1="650.70" y1="125.14" x2="653.70" y2="125.14" stroke="#222" stroke-width="0.8"/>
<line x1="652.10" y1="119.89" x2="653.70" y2="119.89" stroke="#222" stroke-width="0.8"/>
<line x1="652.10" y1="114.65" x2="653.70" y2="114.65" stroke="#222" stroke-width="0.8"/>
<line x1="652.10" y1="109.41" x2="653.70" y2="109.41" stroke="#222" stroke-width="0.8"/>
<line x1="650.70" y1="104.16" x2="653.70" y2="104.16" stroke="#222" stroke-width="0.8"/>
<line x1="652.10" y1="98.91" x2="653.70" y2="98.91" stroke="#222" stroke-width="0.8"/>
<line x1="652.10" y1="93.67" x2="653.70" y2="93.67" stroke="#222" stroke-width="0.8"/>
<line x1="652.10" y1="88.42" x2="653.70" y2="88.42" stroke="#222" stroke-width="0.8"/>
<line x1="650.70" y1="83.18" x2="653.70" y2="83.18" stroke="#222" stroke-width="0.8"/>
<line x1="652.10" y1="77.93" x2="653.70" y2="77.93" stroke="#222" stroke-width="0.8"/>
<line x1="652.10" y1="72.69" x2="653.70" y2="72.69" stroke="#222" stroke-width="0.8"/>
<line x1="652.10" y1="67.44" x2="653.70" y2="67.44" stroke="#222" stroke-width="0.8"/>
<line x1="650.70" y1="62.20" x2="653.70" y2="62.20" stroke="#222" stroke-width="0.8"/>
<line x1="652.10" y1="56.95" x2="653.70" y2="56.95" stroke="#222" stroke-width="0.8"/>
<line x1="652.10" y1="51.71" x2="653.70" y2="51.71" stroke="#222" stroke-width="0.8"/>
<line x1="652.10" y1="46.46" x2="653.70" y2="46.46" stroke="#222" stroke-width="0.8"/>
<line x1="650.70" y1="41.22" x2="653.70" y2="41.22" stroke="#222" stroke-width="0.8"/>
<line x1="652.10" y1="35.97" x2="653.70" y2="35.97" stroke="#222" stroke-width="0.8"/>
<line x1="652.10" y1="30.73" x2="653.70" y2="30.73" stroke="#222" stroke-width="0.8"/>
<line x1="652.10" y1="25.48" x2="653.70" y2="25.48" stroke="#222" stroke-width="0.8"/>
<line x1="650.70" y1="20.24" x2="653.70" y2="20.24" stroke="#222" stroke-width="0.8"/>
<text x="661.8" y="23.74" font-size="9.6" text-anchor="middle">14</text>
<text x="661.8" y="44.72" font-size="9.6" text-anchor="middle">12</text>
<text x="661.8" y="65.70" font-size="9.6" text-anchor="middle">10</text>
<text x="661.8" y="86.68" font-size="9.6" text-anchor="middle">8</text>
<text x="661.8" y="107.66" font-size="9.6" text-anchor="middle">6</text>
<text x="661.8" y="128.64" font-size="9.6" text-anchor="middle">4</text>
<text x="661.8" y="149.62" font-size="9.6" text-anchor="middle">2</text>
<text x="661.8" y="170.60" font-size="9.6" text-anchor="middle">0</text>
<text transform="translate(681.8,88.2) rotate(-90)" text-anchor="middle" font-size="8.7">ΔE (meV)</text>
<rect x="293.4" y="204.4" width="14.40" height="153.70" fill="url(#gc)" stroke="#3a3a3a" stroke-width="0.8"/>
<line x1="304.80" y1="358.10" x2="307.80" y2="358.10" stroke="#222" stroke-width="0.8"/>
<line x1="306.20" y1="351.02" x2="307.80" y2="351.02" stroke="#222" stroke-width="0.8"/>
<line x1="306.20" y1="343.94" x2="307.80" y2="343.94" stroke="#222" stroke-width="0.8"/>
<line x1="306.20" y1="336.86" x2="307.80" y2="336.86" stroke="#222" stroke-width="0.8"/>
<line x1="304.80" y1="329.78" x2="307.80" y2="329.78" stroke="#222" stroke-width="0.8"/>
<line x1="306.20" y1="322.70" x2="307.80" y2="322.70" stroke="#222" stroke-width="0.8"/>
<line x1="306.20" y1="315.62" x2="307.80" y2="315.62" stroke="#222" stroke-width="0.8"/>
<line x1="306.20" y1="308.54" x2="307.80" y2="308.54" stroke="#222" stroke-width="0.8"/>
<line x1="304.80" y1="301.46" x2="307.80" y2="301.46" stroke="#222" stroke-width="0.8"/>
<line x1="306.20" y1="294.38" x2="307.80" y2="294.38" stroke="#222" stroke-width="0.8"/>
<line x1="306.20" y1="287.30" x2="307.80" y2="287.30" stroke="#222" stroke-width="0.8"/>
<line x1="306.20" y1="280.22" x2="307.80" y2="280.22" stroke="#222" stroke-width="0.8"/>
<line x1="304.80" y1="273.14" x2="307.80" y2="273.14" stroke="#222" stroke-width="0.8"/>
<line x1="306.20" y1="266.06" x2="307.80" y2="266.06" stroke="#222" stroke-width="0.8"/>
<line x1="306.20" y1="258.98" x2="307.80" y2="258.98" stroke="#222" stroke-width="0.8"/>
<line x1="306.20" y1="251.90" x2="307.80" y2="251.90" stroke="#222" stroke-width="0.8"/>
<line x1="304.80" y1="244.82" x2="307.80" y2="244.82" stroke="#222" stroke-width="0.8"/>
<line x1="306.20" y1="237.74" x2="307.80" y2="237.74" stroke="#222" stroke-width="0.8"/>
<line x1="306.20" y1="230.66" x2="307.80" y2="230.66" stroke="#222" stroke-width="0.8"/>
<line x1="306.20" y1="223.58" x2="307.80" y2="223.58" stroke="#222" stroke-width="0.8"/>
<line x1="304.80" y1="216.50" x2="307.80" y2="216.50" stroke="#222" stroke-width="0.8"/>
<line x1="306.20" y1="209.42" x2="307.80" y2="209.42" stroke="#222" stroke-width="0.8"/>
<text x="316.3" y="220.00" font-size="10" text-anchor="middle">40</text>
<text x="316.3" y="248.32" font-size="10" text-anchor="middle">32</text>
<text x="316.3" y="276.64" font-size="10" text-anchor="middle">24</text>
<text x="316.3" y="304.96" font-size="10" text-anchor="middle">16</text>
<text x="316.3" y="333.28" font-size="10" text-anchor="middle">8</text>
<text x="316.3" y="361.60" font-size="10" text-anchor="middle">0</text>
<text transform="translate(334.0,283.3) rotate(-90)" text-anchor="middle" font-size="8.4">ΔE (meV)</text>
<rect x="487.4" y="206.6" width="77.1" height="153.6" fill="#d9d9d9"/>
<text x="499.6" y="233.2" font-size="8.8" font-weight="bold">SF region</text>
<polyline points="384.50,348.00 410.24,348.00 435.98,348.30 461.72,349.51 487.46,331.09 513.20,338.34 538.94,337.13 564.68,332.30 590.42,353.44 616.16,348.60 641.90,348.00 667.64,348.00" fill="none" stroke="#3fcf4f" stroke-width="1.1" stroke-linejoin="round"/>
<circle cx="384.50" cy="348.00" r="3.1" fill="#3fcf4f"/>
<circle cx="410.24" cy="348.00" r="3.1" fill="#3fcf4f"/>
<circle cx="435.98" cy="348.30" r="3.1" fill="#3fcf4f"/>
<circle cx="461.72" cy="349.51" r="3.1" fill="#3fcf4f"/>
<circle cx="487.46" cy="331.09" r="3.1" fill="#3fcf4f"/>
<circle cx="513.20" cy="338.34" r="3.1" fill="#3fcf4f"/>
<circle cx="538.94" cy="337.13" r="3.1" fill="#3fcf4f"/>
<circle cx="564.68" cy="332.30" r="3.1" fill="#3fcf4f"/>
<circle cx="590.42" cy="353.44" r="3.1" fill="#3fcf4f"/>
<circle cx="616.16" cy="348.60" r="3.1" fill="#3fcf4f"/>
<circle cx="641.90" cy="348.00" r="3.1" fill="#3fcf4f"/>
<circle cx="667.64" cy="348.00" r="3.1" fill="#3fcf4f"/>
<polyline points="384.50,348.00 410.24,348.00 435.98,348.30 461.72,349.21 487.46,218.14 513.20,213.31 538.94,219.35 564.68,213.31 590.42,348.91 616.16,348.00 641.90,348.00 667.64,348.00" fill="none" stroke="#2e62b0" stroke-width="1.1" stroke-linejoin="round"/>
<circle cx="384.50" cy="348.00" r="3.1" fill="#2e62b0"/>
<circle cx="410.24" cy="348.00" r="3.1" fill="#2e62b0"/>
<circle cx="435.98" cy="348.30" r="3.1" fill="#2e62b0"/>
<circle cx="461.72" cy="349.21" r="3.1" fill="#2e62b0"/>
<circle cx="487.46" cy="218.14" r="3.1" fill="#2e62b0"/>
<circle cx="513.20" cy="213.31" r="3.1" fill="#2e62b0"/>
<circle cx="538.94" cy="219.35" r="3.1" fill="#2e62b0"/>
<circle cx="564.68" cy="213.31" r="3.1" fill="#2e62b0"/>
<circle cx="590.42" cy="348.91" r="3.1" fill="#2e62b0"/>
<circle cx="616.16" cy="348.00" r="3.1" fill="#2e62b0"/>
<circle cx="641.90" cy="348.00" r="3.1" fill="#2e62b0"/>
<circle cx="667.64" cy="348.00" r="3.1" fill="#2e62b0"/>
<polyline points="384.50,348.00 410.24,348.00 435.98,348.00 461.72,347.58 487.46,283.98 513.20,283.37 538.94,282.16 564.68,283.98 590.42,347.28 616.16,347.70 641.90,348.00 667.64,348.00" fill="none" stroke="#ef9c2e" stroke-width="1.1" stroke-linejoin="round"/>
<circle cx="384.50" cy="348.00" r="3.1" fill="#ef9c2e"/>
<circle cx="410.24" cy="348.00" r="3.1" fill="#ef9c2e"/>
<circle cx="435.98" cy="348.00" r="3.1" fill="#ef9c2e"/>
<circle cx="461.72" cy="347.58" r="3.1" fill="#ef9c2e"/>
<circle cx="487.46" cy="283.98" r="3.1" fill="#ef9c2e"/>
<circle cx="513.20" cy="283.37" r="3.1" fill="#ef9c2e"/>
<circle cx="538.94" cy="282.16" r="3.1" fill="#ef9c2e"/>
<circle cx="564.68" cy="283.98" r="3.1" fill="#ef9c2e"/>
<circle cx="590.42" cy="347.28" r="3.1" fill="#ef9c2e"/>
<circle cx="616.16" cy="347.70" r="3.1" fill="#ef9c2e"/>
<circle cx="641.90" cy="348.00" r="3.1" fill="#ef9c2e"/>
<circle cx="667.64" cy="348.00" r="3.1" fill="#ef9c2e"/>
<polyline points="384.50,348.00 410.24,348.00 435.98,349.81 461.72,353.44 487.46,303.91 513.20,312.36 538.94,310.55 564.68,304.51 590.42,352.71 616.16,348.79 641.90,348.00 667.64,348.00" fill="none" stroke="#f5371d" stroke-width="1.35" stroke-linejoin="round"/>
<circle cx="384.50" cy="348.00" r="3.1" fill="#f5371d"/>
<circle cx="410.24" cy="348.00" r="3.1" fill="#f5371d"/>
<circle cx="435.98" cy="349.81" r="3.1" fill="#f5371d"/>
<circle cx="461.72" cy="353.44" r="3.1" fill="#f5371d"/>
<circle cx="487.46" cy="303.91" r="3.1" fill="#f5371d"/>
<circle cx="513.20" cy="312.36" r="3.1" fill="#f5371d"/>
<circle cx="538.94" cy="310.55" r="3.1" fill="#f5371d"/>
<circle cx="564.68" cy="304.51" r="3.1" fill="#f5371d"/>
<circle cx="590.42" cy="352.71" r="3.1" fill="#f5371d"/>
<circle cx="616.16" cy="348.79" r="3.1" fill="#f5371d"/>
<circle cx="641.90" cy="348.00" r="3.1" fill="#f5371d"/>
<circle cx="667.64" cy="348.00" r="3.1" fill="#f5371d"/>
<rect x="370.5" y="206.6" width="310.5" height="153.6" fill="none" stroke="#474747" stroke-width="0.95"/>
<line x1="384.50" y1="360.2" x2="384.50" y2="358.0" stroke="#333" stroke-width="0.8"/>
<line x1="384.50" y1="206.6" x2="384.50" y2="208.79999999999998" stroke="#333" stroke-width="0.8"/>
<line x1="410.24" y1="360.2" x2="410.24" y2="358.0" stroke="#333" stroke-width="0.8"/>
<line x1="410.24" y1="206.6" x2="410.24" y2="208.79999999999998" stroke="#333" stroke-width="0.8"/>
<line x1="435.98" y1="360.2" x2="435.98" y2="358.0" stroke="#333" stroke-width="0.8"/>
<line x1="435.98" y1="206.6" x2="435.98" y2="208.79999999999998" stroke="#333" stroke-width="0.8"/>
<line x1="461.72" y1="360.2" x2="461.72" y2="358.0" stroke="#333" stroke-width="0.8"/>
<line x1="461.72" y1="206.6" x2="461.72" y2="208.79999999999998" stroke="#333" stroke-width="0.8"/>
<line x1="487.46" y1="360.2" x2="487.46" y2="358.0" stroke="#333" stroke-width="0.8"/>
<line x1="487.46" y1="206.6" x2="487.46" y2="208.79999999999998" stroke="#333" stroke-width="0.8"/>
<line x1="513.20" y1="360.2" x2="513.20" y2="358.0" stroke="#333" stroke-width="0.8"/>
<line x1="513.20" y1="206.6" x2="513.20" y2="208.79999999999998" stroke="#333" stroke-width="0.8"/>
<line x1="538.94" y1="360.2" x2="538.94" y2="358.0" stroke="#333" stroke-width="0.8"/>
<line x1="538.94" y1="206.6" x2="538.94" y2="208.79999999999998" stroke="#333" stroke-width="0.8"/>
<line x1="564.68" y1="360.2" x2="564.68" y2="358.0" stroke="#333" stroke-width="0.8"/>
<line x1="564.68" y1="206.6" x2="564.68" y2="208.79999999999998" stroke="#333" stroke-width="0.8"/>
<line x1="590.42" y1="360.2" x2="590.42" y2="358.0" stroke="#333" stroke-width="0.8"/>
<line x1="590.42" y1="206.6" x2="590.42" y2="208.79999999999998" stroke="#333" stroke-width="0.8"/>
<line x1="616.16" y1="360.2" x2="616.16" y2="358.0" stroke="#333" stroke-width="0.8"/>
<line x1="616.16" y1="206.6" x2="616.16" y2="208.79999999999998" stroke="#333" stroke-width="0.8"/>
<line x1="641.90" y1="360.2" x2="641.90" y2="358.0" stroke="#333" stroke-width="0.8"/>
<line x1="641.90" y1="206.6" x2="641.90" y2="208.79999999999998" stroke="#333" stroke-width="0.8"/>
<line x1="667.64" y1="360.2" x2="667.64" y2="358.0" stroke="#333" stroke-width="0.8"/>
<line x1="667.64" y1="206.6" x2="667.64" y2="208.79999999999998" stroke="#333" stroke-width="0.8"/>
<line x1="370.5" y1="348.00" x2="372.7" y2="348.00" stroke="#333" stroke-width="0.8"/>
<line x1="681.0" y1="348.00" x2="678.8" y2="348.00" stroke="#333" stroke-width="0.8"/>
<text x="361.6" y="351.50" font-size="10" text-anchor="middle">0</text>
<line x1="370.5" y1="317.80" x2="372.7" y2="317.80" stroke="#333" stroke-width="0.8"/>
<line x1="681.0" y1="317.80" x2="678.8" y2="317.80" stroke="#333" stroke-width="0.8"/>
<text x="361.6" y="321.30" font-size="10" text-anchor="middle">5</text>
<line x1="370.5" y1="287.60" x2="372.7" y2="287.60" stroke="#333" stroke-width="0.8"/>
<line x1="681.0" y1="287.60" x2="678.8" y2="287.60" stroke="#333" stroke-width="0.8"/>
<text x="361.6" y="291.10" font-size="10" text-anchor="middle">10</text>
<line x1="370.5" y1="257.40" x2="372.7" y2="257.40" stroke="#333" stroke-width="0.8"/>
<line x1="681.0" y1="257.40" x2="678.8" y2="257.40" stroke="#333" stroke-width="0.8"/>
<text x="361.6" y="260.90" font-size="10" text-anchor="middle">15</text>
<line x1="370.5" y1="227.20" x2="372.7" y2="227.20" stroke="#333" stroke-width="0.8"/>
<line x1="681.0" y1="227.20" x2="678.8" y2="227.20" stroke="#333" stroke-width="0.8"/>
<text x="361.6" y="230.70" font-size="10" text-anchor="middle">20</text>
<text x="384.5" y="373.8" font-size="10" text-anchor="middle">6</text>
<text x="405.5" y="373.8" font-size="10" text-anchor="middle">7</text>
<text x="428.4" y="373.8" font-size="10" text-anchor="middle">8</text>
<text x="449.9" y="373.8" font-size="10" text-anchor="middle">9</text>
<text x="475.1" y="373.8" font-size="10" text-anchor="middle">10</text>
<text x="502.0" y="373.8" font-size="10" text-anchor="middle">11</text>
<text x="530.2" y="373.8" font-size="10" text-anchor="middle">12</text>
<text x="558.1" y="373.8" font-size="10" text-anchor="middle">13</text>
<text x="585.9" y="373.8" font-size="10" text-anchor="middle">14</text>
<text x="613.4" y="373.8" font-size="10" text-anchor="middle">15</text>
<text x="640.4" y="373.8" font-size="10" text-anchor="middle">16</text>
<text x="667.4" y="373.8" font-size="10" text-anchor="middle">17</text>
<text x="517.4" y="388.3" font-size="9">Layer</text>
<text transform="translate(348.4,312.8) rotate(-90)" font-size="8.5">ΔE</text>
<text transform="translate(351.8,300.8) rotate(-90)" font-size="8">avg</text>
<text transform="translate(348.6,281.6) rotate(-90)" font-size="9">(meV)</text>
<line x1="635.5" y1="218.0" x2="654.5" y2="218.0" stroke="#2e62b0" stroke-width="1.1"/>
<circle cx="645.2" cy="218.0" r="3.1" fill="#2e62b0"/>
<text x="659.2" y="221.00" font-size="8.3">Al</text>
<line x1="635.5" y1="230.7" x2="654.5" y2="230.7" stroke="#3fcf4f" stroke-width="1.1"/>
<circle cx="645.2" cy="230.7" r="3.1" fill="#3fcf4f"/>
<text x="659.2" y="233.70" font-size="8.3">Co</text>
<line x1="635.5" y1="243.4" x2="654.5" y2="243.4" stroke="#ef9c2e" stroke-width="1.1"/>
<circle cx="645.2" cy="243.4" r="3.1" fill="#ef9c2e"/>
<text x="659.2" y="246.40" font-size="8.3">Cr</text>
<line x1="635.5" y1="256.0" x2="654.5" y2="256.0" stroke="#f5371d" stroke-width="1.1"/>
<circle cx="645.2" cy="256.0" r="3.1" fill="#f5371d"/>
<text x="659.2" y="259.00" font-size="8.3">Ni</text>
</svg></body></html>
